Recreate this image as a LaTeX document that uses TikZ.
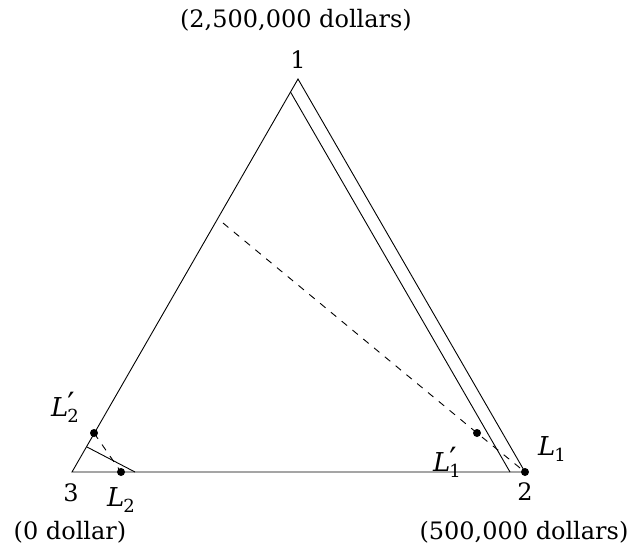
\documentclass[tikz,border=0pt]{standalone}
\usepackage{fontspec}
\setmainfont{DejaVu Serif}
\newcommand{\Lsub}[1]{\textit{L}\kern-1pt\raisebox{-6pt}{\fontsize{18}{20}\selectfont #1}}
\newcommand{\Lpsub}[1]{\textit{L}\kern-1pt\rlap{\raisebox{1pt}{\fontsize{32}{34}\selectfont\char"2032}}\raisebox{-6pt}{\fontsize{18}{20}\selectfont #1}}
\begin{document}
\begin{tikzpicture}[x=1pt,y=-1pt,
  lbl/.style={inner sep=0pt,font=\fontsize{24}{29}\selectfont},
  llbl/.style={inner sep=0pt,font=\fontsize{26}{30}\selectfont},
  dot/.style={circle,fill=black,inner sep=0pt,minimum size=8pt},
  ln/.style={line width=0.9pt},
  dsh/.style={line width=0.9pt,dash pattern=on 7pt off 7pt}]
\useasboundingbox (0,0) rectangle (634,550);
\coordinate (v1) at (298,79);
\coordinate (v2) at (525,472);
\coordinate (v3) at (72,472);
\coordinate (a) at (290.5,92);
\coordinate (b) at (510,472);
\coordinate (c) at (87,447);
\coordinate (d) at (135,472);
\coordinate (e) at (223,223);
\draw[ln] (v1) -- (v2) -- (v3) -- cycle;
\draw[ln] (a) -- (b);
\draw[ln] (c) -- (d);
\node[dot] (L1) at (v2) {};
\node[dot] (L1p) at (477,433) {};
\node[dot] (L2p) at (94,433) {};
\node[dot] (L2) at (121,472) {};
\draw[dsh] (e) -- (L1p.center) -- (L1.center);
\draw[dsh] (L2p.center) -- (L2.center);
\node[lbl] (t1) at (296,20) {(2,500,000 dollars)};
\node[lbl] (n1) at (298,60) {1};
\node[lbl] (n3) at (71,493) {3};
\node[lbl] (t3) at (70,532) {(0 dollar)};
\node[lbl] (n2) at (525,492) {2};
\node[lbl] (t2) at (524,532) {(500,000 dollars)};
\node[llbl] (lL1) at (552,449) {\Lsub{1}};
\node[llbl] (lL1p) at (447,462) {\Lpsub{1}};
\node[llbl] (lL2p) at (65,407) {\Lpsub{2}};
\node[llbl] (lL2) at (121,500) {\Lsub{2}};
\end{tikzpicture}
\end{document}
